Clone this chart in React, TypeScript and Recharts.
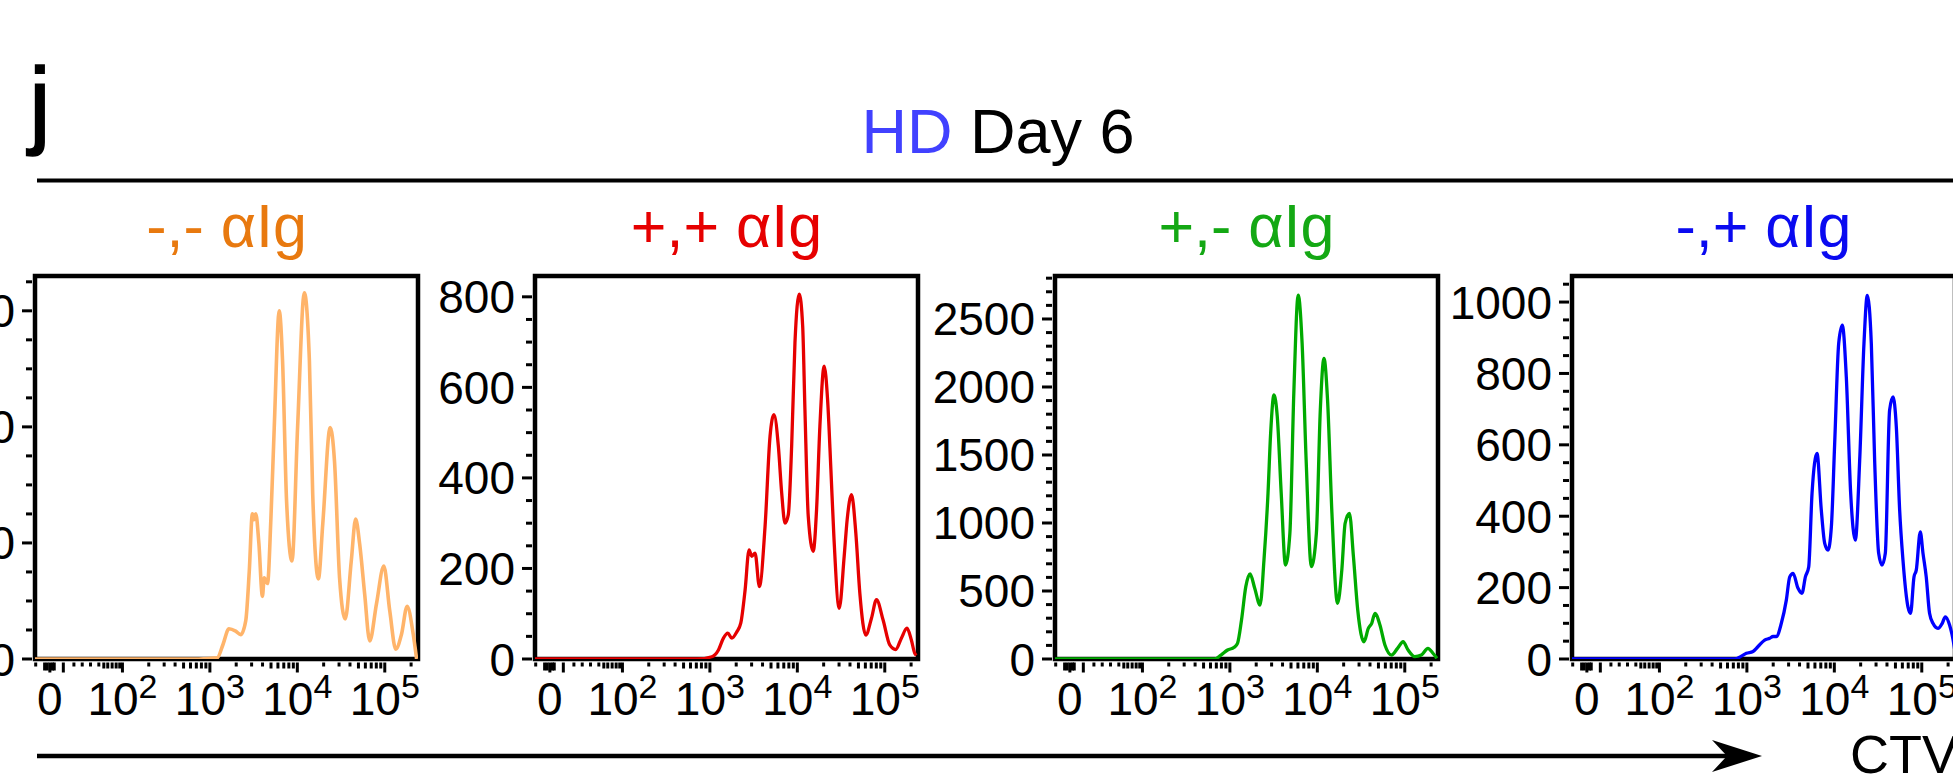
import React from 'react';
import { LineChart, Line, XAxis, YAxis, ReferenceArea } from 'recharts';

// CTV axis is a logicle display: x values are in display decades (10^2 -> 2, 10^3 -> 3 ...)
// "-,- αIg"
const ctvNegNeg = [1.0, 2.874, 3.084, 3.15, 3.218, 3.295, 3.353, 3.41, 3.45, 3.486, 3.505, 3.525, 3.56, 3.601, 3.621, 3.659, 3.698, 3.736, 3.793, 3.831, 3.877, 3.939, 4.003, 4.08, 4.138, 4.176, 4.241, 4.291, 4.376, 4.425, 4.483, 4.548, 4.617, 4.667, 4.713, 4.77, 4.828, 4.905, 4.989, 5.057, 5.126, 5.192, 5.256, 5.325, 5.364];
const countNegNeg = [0, 0, 2, 25, 52, 48, 42, 66, 150, 250, 240, 250, 200, 108, 140, 130, 243, 399, 600, 514, 272, 169, 399, 631, 514, 284, 138, 233, 399, 341, 140, 69, 169, 241, 198, 112, 31, 95, 160, 83, 17, 43, 91, 43, 0];

// "+,+ αIg"
const ctvPosPos = [1.0, 2.852, 3.022, 3.098, 3.155, 3.205, 3.251, 3.308, 3.353, 3.403, 3.448, 3.479, 3.517, 3.566, 3.631, 3.688, 3.733, 3.783, 3.821, 3.859, 3.897, 3.935, 3.973, 4.022, 4.061, 4.087, 4.125, 4.182, 4.22, 4.258, 4.307, 4.346, 4.384, 4.418, 4.479, 4.536, 4.57, 4.62, 4.669, 4.715, 4.783, 4.848, 4.905, 4.981, 5.057, 5.125, 5.19, 5.254, 5.304, 5.342, 5.361];
const countPosPos = [0, 0, 5, 20, 46, 57, 46, 60, 79, 153, 241, 227, 234, 160, 293, 492, 540, 470, 367, 300, 319, 470, 699, 806, 736, 551, 315, 238, 330, 514, 647, 573, 418, 271, 112, 227, 308, 363, 278, 145, 53, 90, 131, 86, 31, 21, 46, 68, 42, 13, 8];

// "+,- αIg"
const ctvPosNeg = [1.0, 2.822, 2.898, 2.974, 3.049, 3.087, 3.133, 3.182, 3.231, 3.284, 3.345, 3.39, 3.436, 3.466, 3.504, 3.542, 3.587, 3.636, 3.686, 3.731, 3.781, 3.826, 3.872, 3.932, 3.989, 4.034, 4.076, 4.117, 4.167, 4.231, 4.28, 4.318, 4.367, 4.413, 4.462, 4.534, 4.583, 4.622, 4.659, 4.716, 4.773, 4.849, 4.917, 4.981, 5.038, 5.114, 5.19, 5.265, 5.322, 5.367];
const countPosNeg = [0, 0, 29, 66, 86, 115, 287, 532, 625, 520, 397, 728, 1218, 1659, 1941, 1782, 1218, 691, 924, 1953, 2676, 2321, 1463, 679, 924, 1831, 2211, 1904, 1071, 409, 654, 998, 1071, 752, 360, 127, 225, 262, 336, 250, 103, 29, 78, 127, 66, 17, 29, 78, 42, 5];

// "-,+ αIg"
const ctvNegPos = [1.0, 2.861, 2.937, 2.994, 3.07, 3.128, 3.203, 3.261, 3.299, 3.337, 3.394, 3.451, 3.49, 3.528, 3.585, 3.63, 3.669, 3.707, 3.745, 3.802, 3.851, 3.89, 3.928, 3.966, 4.004, 4.05, 4.091, 4.137, 4.187, 4.24, 4.29, 4.339, 4.377, 4.423, 4.461, 4.507, 4.545, 4.583, 4.632, 4.671, 4.709, 4.747, 4.785, 4.842, 4.872, 4.911, 4.937, 4.983, 5.014, 5.051, 5.089, 5.128, 5.185, 5.234, 5.269, 5.318, 5.371, 5.38];
const countNegPos = [0, 0, 8, 16, 21, 35, 53, 58, 63, 63, 100, 165, 230, 240, 198, 184, 230, 258, 464, 576, 417, 324, 305, 370, 604, 884, 935, 790, 464, 333, 557, 884, 1019, 884, 557, 296, 263, 296, 697, 734, 650, 417, 277, 146, 128, 230, 249, 356, 296, 230, 128, 100, 86, 100, 118, 95, 35, 20];

// y tick labels per panel
const yMajorNegNeg = [0, 200, 400, 600];
const yMajorPosPos = [0, 200, 400, 600, 800];
const yMajorPosNeg = [0, 500, 1000, 1500, 2000, 2500];
const yMajorNegPos = [0, 200, 400, 600, 800, 1000];

// x tick labels: "0", 10², 10³, 10⁴, 10⁵
const xMajorTicks = [1.17, 2, 3, 4, 5];
const xMajorExponents = [null, 2, 3, 4, 5];
const xNearZeroTicks = [1.008, 1.11, 1.14, 1.2, 1.22, 1.324];
const xLinearTicks = [1.445, 1.54, 1.635, 1.73, 1.787, 1.832, 1.882, 1.928, 1.969];

const FONT = '"Liberation Sans", Arial, Helvetica, sans-serif';
const PLOT_W = 383;
const PLOT_H = 383;
const PLOT_TOP = 276;
const Y_AXIS_W = 130;
const X_AXIS_H = 70;
const X_DOMAIN: [number, number] = [1.0, 5.38];

// tick length by value
const xTickLen = new Map<number, number>();
xMajorTicks.forEach(t => xTickLen.set(t, 10));
xNearZeroTicks.forEach(t => xTickLen.set(t, t === 1.324 ? 10 : t === 1.008 ? 4 : 8));
xLinearTicks.forEach((t, i) => xTickLen.set(t, i >= 4 ? 6 : 4));
[2, 3, 4].forEach(k => {
  for (let m = 2; m <= 9; m++) xTickLen.set(k + Math.log10(m), m >= 5 ? 6 : 4);
});
xTickLen.set(5 + Math.log10(2), 4);
const xTicks = Array.from(xTickLen.keys()).sort((a, b) => a - b);

function XTick({ x, y, payload }: any) {
  const v = payload.value;
  const len = xTickLen.get(v) ?? 4;
  const idx = xMajorTicks.indexOf(v);
  return (
    <g>
      <line x1={x} x2={x} y1={y + 3.5} y2={y + 3.5 + len} stroke="#000" strokeWidth={3} />
      {idx >= 0 && (
        <text x={x} y={y + 56} textAnchor="middle" fontSize={46} fontFamily={FONT} fill="#000">
          {xMajorExponents[idx] == null ? (
            '0'
          ) : (
            <>
              <tspan>10</tspan>
              <tspan dy={-17} fontSize={34}>{xMajorExponents[idx]}</tspan>
            </>
          )}
        </text>
      )}
    </g>
  );
}

function YTick({ x, y, payload, majors }: any) {
  const major = majors.includes(payload.value);
  const len = major ? 10 : 6;
  return (
    <g>
      <line x1={x - 3} x2={x - 3 - len} y1={y} y2={y} stroke="#000" strokeWidth={3} />
      {major && (
        <text x={x - 20} y={y + 16.5} textAnchor="end" fontSize={46} fontFamily={FONT} fill="#000">
          {payload.value}
        </text>
      )}
    </g>
  );
}

const panels = [
  { label: '-,- αIg', labelColor: '#E8790F', color: '#FFB46A', width: 3.6, xs: ctvNegNeg, ys: countNegNeg, yMax: 660, majors: yMajorNegNeg, minorStep: 50, left: 35 },
  { label: '+,+ αIg', labelColor: '#E60000', color: '#E60000', width: 3.3, xs: ctvPosPos, ys: countPosPos, yMax: 846, majors: yMajorPosPos, minorStep: 50, left: 535 },
  { label: '+,- αIg', labelColor: '#14A814', color: '#00AA00', width: 3.3, xs: ctvPosNeg, ys: countPosNeg, yMax: 2816, majors: yMajorPosNeg, minorStep: 100, left: 1055 },
  { label: '-,+ αIg', labelColor: '#0A0AF0', color: '#0000FF', width: 3.3, xs: ctvNegPos, ys: countNegPos, yMax: 1073, majors: yMajorNegPos, minorStep: 50, left: 1572 },
];

export default function App() {
  return (
    <div style={{ position: 'absolute', left: 0, top: 0, width: 1953, height: 780, overflow: 'hidden', background: '#fff' }}>
      <svg width={1953} height={780} style={{ position: 'absolute', left: 0, top: 0 }}>
        <text x={29} y={136} fontSize={98} fontFamily={FONT} fill="#000" stroke="#000" strokeWidth={1.5}>j</text>
        <text x={998} y={153} fontSize={63} fontFamily={FONT} textAnchor="middle" style={{ whiteSpace: 'pre' }}>
          <tspan fill="#4141FF">HD</tspan>
          <tspan fill="#000"> Day 6</tspan>
        </text>
        <line x1={37} x2={1953} y1={180.5} y2={180.5} stroke="#000" strokeWidth={4} />
        {panels.map(p => (
          <text key={p.label} x={p.left + PLOT_W / 2} y={247} fontSize={61} fontFamily={FONT} textAnchor="middle" fill={p.labelColor}>
            {p.label}
          </text>
        ))}
        <line x1={37} x2={1730} y1={756} y2={756} stroke="#000" strokeWidth={4.5} />
        <polygon points="1762,756 1712,740 1727,756 1712,772" fill="#000" />
        <text x={1850} y={773} fontSize={54} fontFamily={FONT} fill="#000">CTV</text>
      </svg>

      {panels.map(p => {
        const data = p.xs.map((x, i) => ({ x, y: p.ys[i] }));
        const yTicks: number[] = [];
        for (let v = 0; v <= p.yMax; v += p.minorStep) yTicks.push(v);
        return (
          <div key={p.label} style={{ position: 'absolute', left: p.left - Y_AXIS_W, top: PLOT_TOP - 10 }}>
            <LineChart
              width={Y_AXIS_W + PLOT_W + 10}
              height={10 + PLOT_H + X_AXIS_H}
              data={data}
              margin={{ top: 10, right: 10, bottom: 0, left: 0 }}
            >
              <XAxis
                type="number"
                dataKey="x"
                domain={X_DOMAIN}
                allowDataOverflow
                ticks={xTicks}
                interval={0}
                tickSize={0}
                tickMargin={0}
                axisLine={false}
                tickLine={false}
                height={X_AXIS_H}
                tick={(props: any) => <XTick {...props} />}
              />
              <YAxis
                type="number"
                domain={[0, p.yMax]}
                allowDataOverflow
                ticks={yTicks}
                interval={0}
                tickSize={0}
                tickMargin={0}
                axisLine={false}
                tickLine={false}
                width={Y_AXIS_W}
                tick={(props: any) => <YTick {...props} majors={p.majors} />}
              />
              <ReferenceArea x1={X_DOMAIN[0]} x2={X_DOMAIN[1]} y1={0} y2={p.yMax} fill="none" fillOpacity={0} stroke="#000" strokeWidth={4.5} />
              <Line type="monotone" dataKey="y" stroke={p.color} strokeWidth={p.width} dot={false} isAnimationActive={false} />
            </LineChart>
          </div>
        );
      })}
    </div>
  );
}
